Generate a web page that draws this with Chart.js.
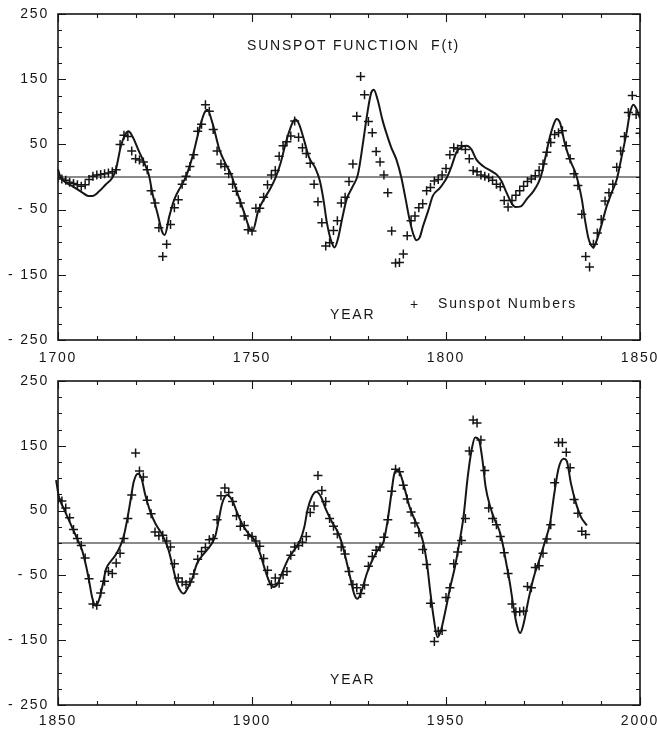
<!DOCTYPE html>
<html>
<head>
<meta charset="utf-8">
<script src="https://cdn.jsdelivr.net/npm/chart.js@4.4.1/dist/chart.umd.min.js"></script>
<style>
  html, body { margin: 0; padding: 0; background: #ffffff; }
  #wrap { position: relative; width: 657px; height: 733px; }
  .panel { position: absolute; left: 0; width: 657px; }
  #p1 { top: 0; height: 366px; }
  #p2 { top: 366px; height: 367px; }
</style>
</head>
<body>
<div id="wrap">
  <div class="panel" id="p1"><canvas id="c1" width="657" height="366"></canvas></div>
  <div class="panel" id="p2"><canvas id="c2" width="657" height="367"></canvas></div>
</div>
<script>
// ---------------- DATA ----------------
const topFirstYear = 1700;
const topSunspots = [
  -1, -3, -5, -8, -10, -12, -14, -12, -4, 1,          // 1700-1709
  3, 4, 5, 6, 8, 11, 50, 64, 62, 40,                  // 1710-1719
  28, 26, 23, 11, -21, -40, -78, -122, -103, -73,     // 1720-1729
  -47, -35, -11, 1, 16, 34, 70, 81, 111, 101,         // 1730-1739
  73, 40, 20, 16, 5, -11, -22, -40, -60, -81,         // 1740-1749
  -83, -48, -48, -31, -12, 3, 10, 32, 48, 54,         // 1750-1759
  63, 86, 61, 45, 36, 21, -11, -38, -70, -106,        // 1760-1769
  -101, -82, -67, -40, -31, -7, 20, 93, 154, 126,     // 1770-1779
  85, 68, 39, 23, 3, -24, -83, -132, -131, -118,      // 1780-1789
  -90, -67, -60, -47, -41, -21, -16, -6, -4, 3,       // 1790-1799
  13, 34, 45, 43, 48, 42, 28, 10, 8, 3,               // 1800-1809
  1, -1, -5, -11, -15, -36, -46, -36, -28, -21,       // 1810-1819
  -14, -7, -3, 2, 10, 20, 38, 53, 65, 68,             // 1820-1829
  71, 48, 28, 5, -13, -57, -122, -138, -103, -86,     // 1830-1839
  -65, -37, -24, -11, 15, 40, 62, 99, 125, 96,        // 1840-1849
  67                                                  // 1850
];
const topYears = topSunspots.map((_, i) => topFirstYear + i);

const topCurveYears = [
  1700.0, 1700.5, 1701.5, 1703.7, 1706.3, 1707.8, 1708.9, 1710.6, 1712.3, 1714.0,
  1714.9, 1716.2, 1717.3, 1718.2, 1719.2, 1720.9, 1722.6, 1723.5, 1724.3, 1725.6,
  1726.9, 1727.5, 1728.7, 1730.0, 1731.7, 1733.0, 1734.7, 1736.4, 1737.7, 1738.5,
  1739.8, 1741.6, 1743.3, 1744.6, 1745.9, 1748.0, 1749.5, 1750.2, 1751.6, 1753.0,
  1754.5, 1756.0, 1757.3, 1758.6, 1759.6, 1760.5, 1761.2, 1762.2, 1763.5, 1764.7,
  1766.3, 1767.5, 1768.4, 1769.3, 1770.4, 1771.3, 1772.1, 1773.3, 1774.4, 1776.0,
  1777.3, 1778.6, 1779.6, 1780.7, 1781.4, 1782.4, 1783.6, 1784.6, 1785.9, 1787.2,
  1788.5, 1789.6, 1790.6, 1791.7, 1792.4, 1793.2, 1794.1, 1795.4, 1796.6, 1798.4,
  1799.5, 1800.3, 1801.4, 1802.7, 1804.0, 1805.3, 1806.6, 1807.8, 1809.6, 1811.7,
  1813.0, 1814.3, 1815.6, 1816.9, 1817.9, 1819.3, 1820.8, 1822.5, 1823.8, 1824.6,
  1825.5, 1826.8, 1827.9, 1828.5, 1829.4, 1830.6, 1831.9, 1833.2, 1834.1, 1835.0,
  1835.8, 1836.8, 1838.0, 1838.8, 1840.1, 1841.4, 1842.7, 1844.0, 1845.3, 1846.6,
  1847.4, 1848.3, 1849.2, 1850.0
];
const topCurveValues = [
  12, 2, -6, -14, -24, -29, -29, -22, -11.5, -1,
  11, 47, 65, 70, 62, 39, 16.5, 1, -24, -55,
  -85, -89, -60, -34, -14, 1, 32, 73, 98, 103,
  83, 42, 19, 4, -19, -55, -80, -82, -52, -35,
  -20, -2, 20, 50, 70, 84, 88, 80, 55, 30,
  14, -6, -34, -70, -98, -108, -96, -62, -34, -14,
  4, 52, 93, 129, 134, 118, 88, 68, 45, 27,
  -1, -34, -65, -90, -97, -93, -75, -52, -29, -17,
  -8, 0, 16, 38, 46, 48, 42, 27, 16.5, 9,
  4, -6, -24, -40, -46, -45, -34, -22, -9, 4,
  27, 62, 83, 89, 83, 52, 27, 9, -9, -34,
  -65, -96, -108, -98, -73, -45, -24, -4, 32, 70,
  98, 111, 103, 90
];

const bottomFirstYear = 1850;
const bottomSunspots = [
  67, 65, 54, 39, 21, 7, -4, -23, -55, -94,           // 1850-1859
  -96, -77, -59, -44, -47, -31, -16, 7, 38, 74,       // 1860-1869
  139, 111, 102, 66, 45, 17, 11, 12, 3, -6,           // 1870-1879
  -32, -54, -60, -64, -60, -48, -25, -13, -7, 5,      // 1880-1889
  7, 36, 73, 85, 78, 64, 42, 26, 27, 12,              // 1890-1899
  10, 3, -5, -24, -42, -64, -54, -62, -49, -44,       // 1900-1909
  -19, -6, -4, 1, 10, 47, 57, 104, 81, 64,            // 1910-1919
  38, 26, 14, -6, -17, -44, -64, -69, -78, -65,       // 1920-1929
  -36, -21, -11, -6, 9, 36, 80, 114, 110, 89,         // 1930-1939
  68, 48, 31, 16, -10, -33, -93, -152, -136, -135,    // 1940-1949
  -84, -69, -32, -14, 4, 38, 142, 190, 185, 159,      // 1950-1959
  112, 54, 38, 28, 10, -15, -47, -94, -106, -106,     // 1960-1969
  -105, -67, -69, -38, -35, -16, 6, 28, 93, 155,      // 1970-1979
  155, 140, 116, 67, 46, 18, 13                       // 1980-1986
];
const bottomYears = bottomSunspots.map((_, i) => bottomFirstYear + i);

const bottomCurveYears = [
  1849.0, 1849.5, 1850.2, 1851.5, 1853.2, 1854.9, 1856.2, 1857.3, 1858.0, 1858.8,
  1859.7, 1860.5, 1861.4, 1862.4, 1863.5, 1864.8, 1866.1, 1867.0, 1867.8, 1868.7,
  1869.5, 1870.6, 1871.5, 1872.5, 1873.8, 1875.1, 1876.7, 1877.7, 1878.5, 1879.6,
  1880.7, 1881.8, 1882.4, 1883.3, 1884.6, 1885.8, 1887.6, 1889.3, 1890.6, 1891.4,
  1892.3, 1893.6, 1894.9, 1896.1, 1897.4, 1899.1, 1900.7, 1902.1, 1903.4, 1904.7,
  1905.6, 1906.6, 1907.7, 1909.4, 1911.1, 1912.4, 1913.5, 1914.3, 1915.4, 1916.6,
  1917.8, 1919.1, 1920.6, 1922.1, 1923.2, 1924.3, 1925.3, 1926.3, 1927.2, 1928.3,
  1929.6, 1931.2, 1932.6, 1933.9, 1934.9, 1935.8, 1936.6, 1937.3, 1938.2, 1939.2,
  1940.6, 1942.0, 1943.3, 1944.2, 1945.1, 1945.9, 1946.8, 1947.8, 1948.7, 1949.8,
  1951.1, 1952.3, 1953.4, 1954.5, 1955.6, 1956.6, 1957.5, 1958.5, 1959.4, 1960.2,
  1961.4, 1962.6, 1963.7, 1964.5, 1965.4, 1966.5, 1967.4, 1968.2, 1969.1, 1969.9,
  1971.2, 1972.5, 1974.0, 1975.5, 1976.8, 1977.9, 1979.0, 1980.3, 1981.1, 1982.2,
  1983.4, 1984.8, 1986.3
];
const bottomCurveValues = [
  108, 97, 72, 53, 30, 7, -11, -37, -58, -84,
  -97, -89, -68, -40, -29, -19, -4, 12, 35, 66,
  94, 107, 100, 74, 48, 30, 14.5, 2, -11, -37,
  -63, -76, -78, -71, -55, -32, -16.5, -4, 12, 35,
  61, 74, 66, 48, 30, 14.5, 4, -16.5, -42, -63,
  -68, -63, -47, -24, -9, 4, 25, 51, 71, 79,
  71, 51, 32.5, 17, -1, -27, -53, -78, -86, -73,
  -47, -24, -9, 2, 32.5, 71, 105, 112.5, 107, 87,
  56, 35, 17, -1, -32, -73, -114.5, -145.5, -135, -106,
  -68, -37, -1, 40, 102, 143.5, 163, 159, 128, 87,
  56, 35, 20, 2, -27, -63, -99, -125, -139, -127,
  -89, -55, -27, 2, 30, 76, 115, 130, 127, 92,
  63.5, 40, 27
];

const yTickValuesRange = { min: -250, max: 250, step: 100 };
const titleText = 'SUNSPOT FUNCTION  F(t)';
const xAxisTitleText = 'YEAR';
const legendText = 'Sunspot Numbers';

// ---------------- STYLE / HELPERS ----------------
const INK = '#161616';
const FONT_FAMILY = '"Liberation Sans", Arial, Helvetica, sans-serif';
const LETTER_SPACING = '1.8px';

function toXY(xs, ys) { return xs.map((x, i) => ({ x: x, y: ys[i] })); }

function fmtY(v) { return v < 0 ? '- ' + Math.abs(v) : String(v); }

const framePlugin = {
  id: 'frameTicks',
  beforeDraw(chart) {
    chart.ctx.letterSpacing = LETTER_SPACING;
  },
  afterDatasetsDraw(chart, args, o) {
    const { ctx, chartArea: a, scales: { x, y } } = chart;
    ctx.save();
    ctx.strokeStyle = INK;
    ctx.lineWidth = 1.1;
    ctx.beginPath();
    // y ticks (left and right, inward)
    for (let v = y.min; v <= y.max + 1e-9; v += o.yMinor) {
      const py = Math.round(y.getPixelForValue(v)) + 0.5;
      const major = Math.abs(((v - y.min) % o.yMajor)) < 1e-9;
      const len = major ? 8 : 4;
      ctx.moveTo(a.left, py); ctx.lineTo(a.left + len, py);
      ctx.moveTo(a.right, py); ctx.lineTo(a.right - len, py);
    }
    // x ticks (top and bottom, inward)
    for (let v = x.min; v <= x.max + 1e-9; v += o.xMinor) {
      const px = Math.round(x.getPixelForValue(v)) + 0.5;
      const major = Math.abs(((v - x.min) % o.xMajor)) < 1e-9;
      const len = major ? 8 : 4;
      ctx.moveTo(px, a.top); ctx.lineTo(px, a.top + len);
      ctx.moveTo(px, a.bottom); ctx.lineTo(px, a.bottom - len);
    }
    ctx.stroke();
    ctx.lineWidth = 1.6;
    ctx.strokeRect(a.left, a.top, a.right - a.left, a.bottom - a.top);
    ctx.restore();
  },
  afterDraw(chart, args, o) {
    const ctx = chart.ctx;
    ctx.save();
    ctx.letterSpacing = LETTER_SPACING;
    ctx.fillStyle = INK;
    ctx.textBaseline = 'middle';
    ctx.textAlign = 'left';
    (o.texts || []).forEach(t => {
      ctx.font = (t.size || 14) + 'px ' + FONT_FAMILY;
      ctx.fillText(t.text, t.x, t.y);
    });
    ctx.restore();
  }
};

function makeChart(canvasId, cfg) {
  const ctx = document.getElementById(canvasId);
  return new Chart(ctx, {
    type: 'scatter',
    data: {
      datasets: [
        {
          type: 'line',
          data: [{ x: cfg.xMin, y: 0 }, { x: cfg.xMax, y: 0 }],
          borderColor: INK,
          borderWidth: 1.2,
          pointRadius: 0,
          tension: 0,
          order: 3
        },
        {
          type: 'line',
          data: toXY(cfg.curveX, cfg.curveY),
          borderColor: INK,
          borderWidth: 2,
          pointRadius: 0,
          cubicInterpolationMode: 'monotone',
          clip: { left: 6, top: 0, right: 0, bottom: 0 },
          order: 2
        },
        {
          type: 'scatter',
          data: toXY(cfg.dotsX, cfg.dotsY),
          pointStyle: 'cross',
          pointRadius: 4.5,
          borderWidth: 1.5,
          borderColor: INK,
          backgroundColor: INK,
          order: 1
        }
      ]
    },
    options: {
      responsive: false,
      devicePixelRatio: 1,
      animation: false,
      events: [],
      layout: { padding: { left: 0, right: 17, top: cfg.top, bottom: 0 } },
      plugins: {
        legend: { display: false },
        tooltip: { enabled: false },
        frameTicks: { yMinor: 25, yMajor: 100, xMinor: 10, xMajor: 50, texts: cfg.texts }
      },
      scales: {
        x: {
          type: 'linear',
          min: cfg.xMin,
          max: cfg.xMax,
          grid: { display: false, drawTicks: false },
          border: { display: false },
          ticks: {
            stepSize: 50,
            color: INK,
            padding: cfg.xLabelPad,
            maxRotation: 0,
            font: { family: FONT_FAMILY, size: 14 },
            callback: v => String(v)
          },
          afterFit: s => { s.height = cfg.xAxisH; s.paddingLeft = 0; s.paddingRight = 0; }
        },
        y: {
          type: 'linear',
          min: yTickValuesRange.min,
          max: yTickValuesRange.max,
          grid: { display: false, drawTicks: false },
          border: { display: false },
          ticks: {
            stepSize: yTickValuesRange.step,
            color: INK,
            padding: 9,
            font: { family: FONT_FAMILY, size: 14 },
            callback: v => fmtY(v)
          },
          afterFit: s => { s.width = 58; s.paddingTop = 0; s.paddingBottom = 0; }
        }
      }
    },
    plugins: [framePlugin]
  });
}

makeChart('c1', {
  xMin: 1700, xMax: 1850, top: 14, xAxisH: 26, xLabelPad: 10,
  dotsX: topYears, dotsY: topSunspots,
  curveX: topCurveYears, curveY: topCurveValues,
  texts: [
    { text: titleText, x: 247, y: 46 },
    { text: xAxisTitleText, x: 330, y: 315 },
    { text: '+', x: 410, y: 305 },
    { text: legendText, x: 438, y: 304 }
  ]
});

makeChart('c2', {
  xMin: 1850, xMax: 2000, top: 15, xAxisH: 28, xLabelPad: 8,
  dotsX: bottomYears, dotsY: bottomSunspots,
  curveX: bottomCurveYears, curveY: bottomCurveValues,
  texts: [
    { text: xAxisTitleText, x: 330, y: 314 }
  ]
});
</script>
</body>
</html>
